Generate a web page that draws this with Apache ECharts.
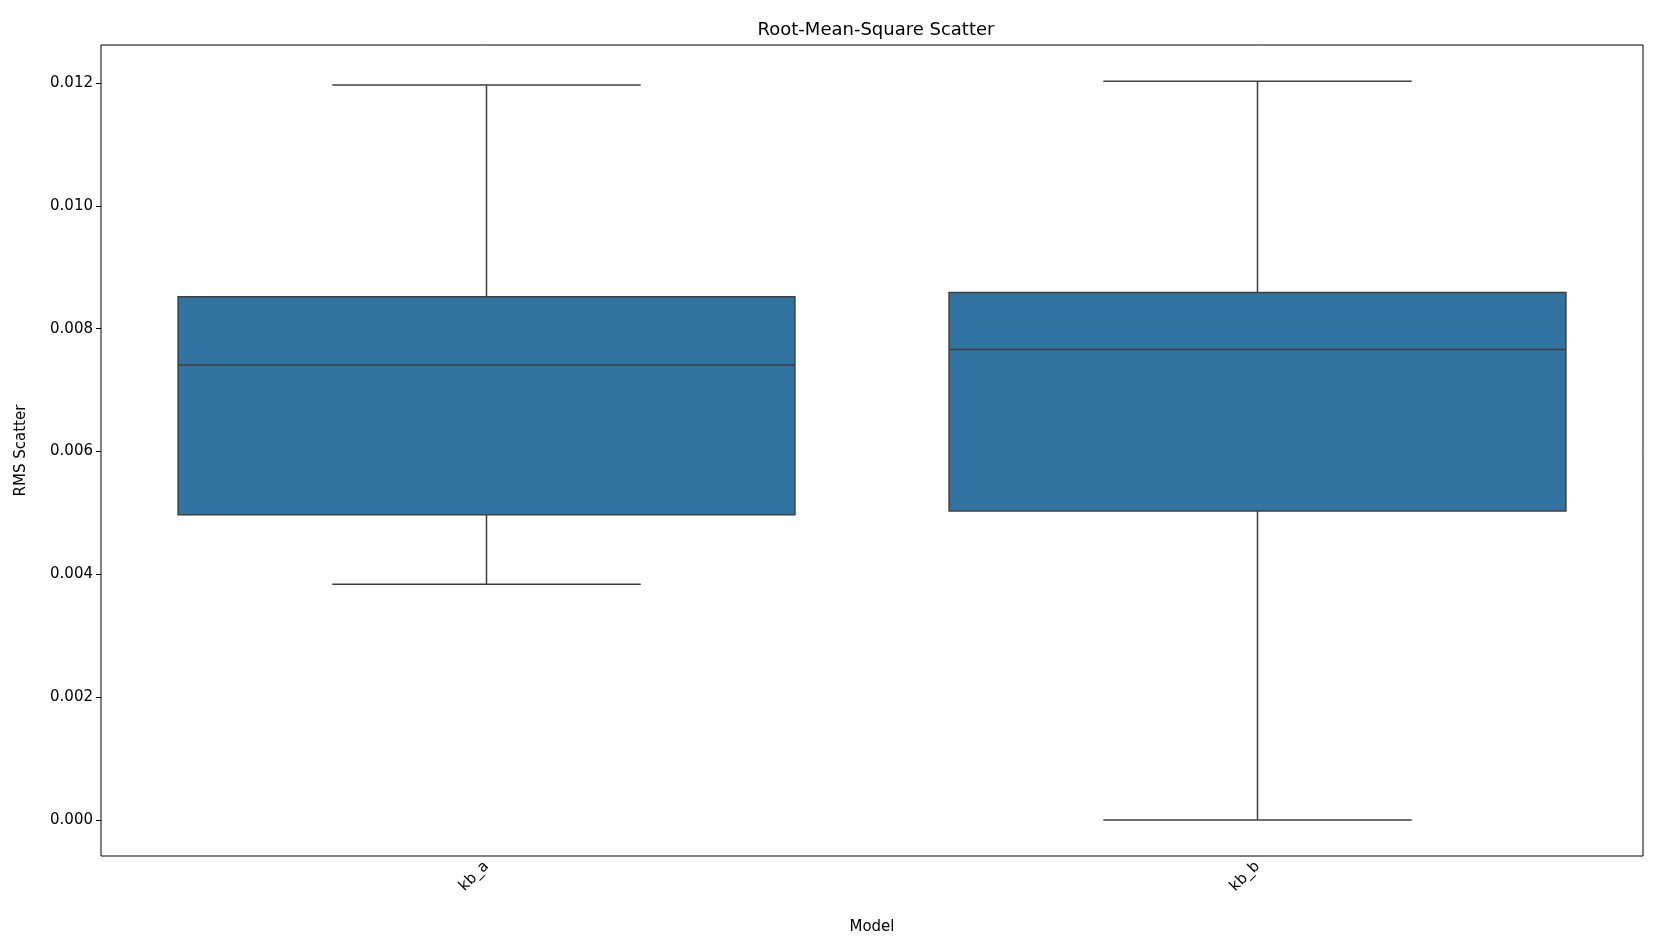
<!DOCTYPE html>
<html><head><meta charset="utf-8">
<script src="https://cdn.jsdelivr.net/npm/echarts@6/dist/echarts.min.js"></script>
<style>html,body{margin:0;padding:0;background:#fff}#c{width:1661px;height:949px}</style>
</head><body><div id="c"></div>
<script>
const categories = ['kb_a', 'kb_b'];
const mins = [0.00384, 0.0];
const q1s = [0.00497, 0.00503];
const medians = [0.00741, 0.00766];
const q3s = [0.00852, 0.00859];
const maxs = [0.01197, 0.01203];
const yTicks = [0, 0.002, 0.004, 0.006, 0.008, 0.010, 0.012];

const data = categories.map((c, i) => [i, mins[i], q1s[i], medians[i], q3s[i], maxs[i]]);
const chart = echarts.init(document.getElementById('c'));
const edge = '#3f3f3f';
chart.setOption({
  animation: false,
  title: { text: 'Root-Mean-Square Scatter', left: 871, top: 16, textAlign: 'center',
    textStyle: { fontFamily: 'DejaVu Sans', fontSize: 18, fontWeight: 'normal', color: '#000' } },
  grid: { left: 101, right: 18, top: 45, bottom: 93, show: true, borderColor: '#000', borderWidth: 1 },
  xAxis: { type: 'category', data: categories, name: 'Model', nameLocation: 'middle', nameGap: 64,
    nameTextStyle: { fontFamily: 'DejaVu Sans', fontSize: 15, color: '#000' },
    axisLine: { show: false }, axisTick: { alignWithLabel: true, length: 5, lineStyle: { color: '#000' } },
    axisLabel: { rotate: 45, fontFamily: 'DejaVu Sans', fontSize: 15, color: '#000', margin: 8 } },
  yAxis: { type: 'value', min: -0.000586, max: 0.01262, name: 'RMS Scatter', nameLocation: 'middle', nameGap: 72,
    nameTextStyle: { fontFamily: 'DejaVu Sans', fontSize: 15, color: '#000' },
    splitLine: { show: false }, axisLine: { show: false },
    axisTick: { show: true, length: 5, customValues: yTicks, lineStyle: { color: '#000' } },
    axisLabel: { customValues: yTicks, formatter: v => v.toFixed(3), fontFamily: 'DejaVu Sans', fontSize: 15, color: '#000' } },
  series: [{
    type: 'custom', data: data,
    renderItem: function (params, api) {
      const x = api.value(0);
      const w = api.size([1, 0])[0] * 0.8;
      const pMin = api.coord([x, api.value(1)]);
      const pQ1 = api.coord([x, api.value(2)]);
      const pMed = api.coord([x, api.value(3)]);
      const pQ3 = api.coord([x, api.value(4)]);
      const pMax = api.coord([x, api.value(5)]);
      const cx = pMed[0];
      const ls = { stroke: edge, lineWidth: 1.5 };
      return { type: 'group', children: [
        { type: 'line', shape: { x1: cx, y1: pQ1[1], x2: cx, y2: pMin[1] }, style: ls },
        { type: 'line', shape: { x1: cx, y1: pQ3[1], x2: cx, y2: pMax[1] }, style: ls },
        { type: 'line', shape: { x1: cx - w / 4, y1: pMin[1], x2: cx + w / 4, y2: pMin[1] }, style: ls },
        { type: 'line', shape: { x1: cx - w / 4, y1: pMax[1], x2: cx + w / 4, y2: pMax[1] }, style: ls },
        { type: 'rect', shape: { x: cx - w / 2, y: pQ3[1], width: w, height: pQ1[1] - pQ3[1] },
          style: { fill: '#3274a1', stroke: edge, lineWidth: 1.5 } },
        { type: 'line', shape: { x1: cx - w / 2, y1: pMed[1], x2: cx + w / 2, y2: pMed[1] }, style: ls }
      ] };
    }
  }]
});
</script></body></html>
